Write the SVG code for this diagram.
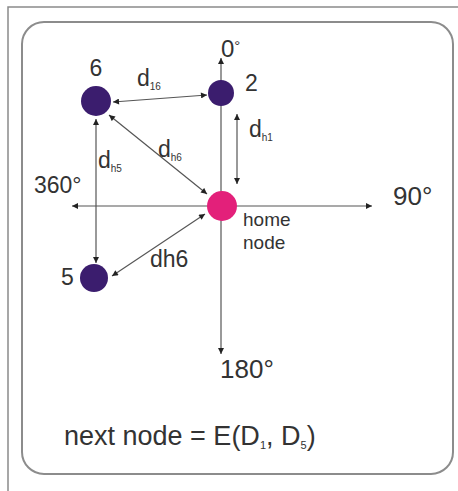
<svg xmlns="http://www.w3.org/2000/svg" width="458" height="491" viewBox="0 0 458 491">
<defs>
<marker id="ah" viewBox="0 0 10 10" refX="10" refY="5" markerWidth="7" markerHeight="6" markerUnits="userSpaceOnUse" orient="auto-start-reverse">
<path d="M0,0 L10,5 L0,10 z" fill="#222"/>
</marker>
<style>
.frame{fill:none;stroke:#8a8a8a;stroke-width:1.5}
.box{fill:#fff;stroke:#8c8c8c;stroke-width:2}
.ln{fill:none;stroke:#555;stroke-width:1.2}
.ar{marker-end:url(#ah)}
.ar2{marker-start:url(#ah);marker-end:url(#ah)}
.node{fill:#3b1d6e}
.home{fill:#e3207a}
text{font-family:"Liberation Sans",Arial,sans-serif;fill:#333}
.big{font-size:26px}
.lab{font-size:23px}
.sub{font-size:10px}
</style>
</defs>
<rect width="458" height="491" fill="#fff"/>
<path class="frame" d="M8,491 V7 H458"/>
<rect class="box" x="22" y="22" width="431" height="452" rx="22"/>
<g id="connectors">
<line class="ln ar" x1="221" y1="93" x2="221" y2="58"/>
<line class="ln" x1="221" y1="93" x2="221" y2="206"/>
<line class="ln ar" x1="221" y1="206" x2="221" y2="354"/>
<line class="ln ar" x1="221" y1="206" x2="372" y2="206"/>
<line class="ln ar" x1="221" y1="206" x2="72" y2="206"/>
<line class="ln ar2" x1="113" y1="102" x2="207" y2="95"/>
<line class="ln ar2" x1="109" y1="115" x2="207" y2="194"/>
<line class="ln ar2" x1="96" y1="119" x2="96" y2="263"/>
<line class="ln ar2" x1="205" y1="214" x2="112" y2="276"/>
<line class="ln ar2" x1="237" y1="114" x2="237" y2="184"/>
</g>
<g id="node6"><circle class="node" cx="96" cy="101" r="15"/><text class="lab" x="96" y="76" text-anchor="middle">6</text></g>
<g id="node2"><circle class="node" cx="221" cy="93" r="13"/><text class="lab" x="245" y="91">2</text></g>
<g id="node5"><circle class="node" cx="94" cy="278" r="14"/><text class="lab" x="61" y="285">5</text></g>
<g id="home"><circle class="home" cx="222" cy="206" r="15"/><text x="243" y="226" font-size="19">home</text><text x="243" y="249" font-size="19">node</text></g>
<g id="labels">
<text x="221" y="57" font-size="24">0<tspan font-size="15" dy="-6">°</tspan></text>
<text class="big" x="393" y="205">90°</text>
<text x="34" y="193" font-size="23">360°</text>
<text class="big" x="220" y="378">180°</text>
<text class="lab" x="137" y="86">d<tspan class="sub" dy="4">16</tspan></text>
<text class="lab" x="249" y="137">d<tspan class="sub" dy="4">h1</tspan></text>
<text class="lab" x="158" y="157">d<tspan class="sub" dy="4">h6</tspan></text>
<text class="lab" x="98" y="168">d<tspan class="sub" dy="4">h5</tspan></text>
<text class="lab" x="150" y="267">dh6</text>
<text x="64" y="445" font-size="27">next node = E(D<tspan font-size="11" dy="4">1</tspan><tspan dy="-4">, D</tspan><tspan font-size="11" dy="4">5</tspan><tspan dy="-4">)</tspan></text>
</g>
</svg>
